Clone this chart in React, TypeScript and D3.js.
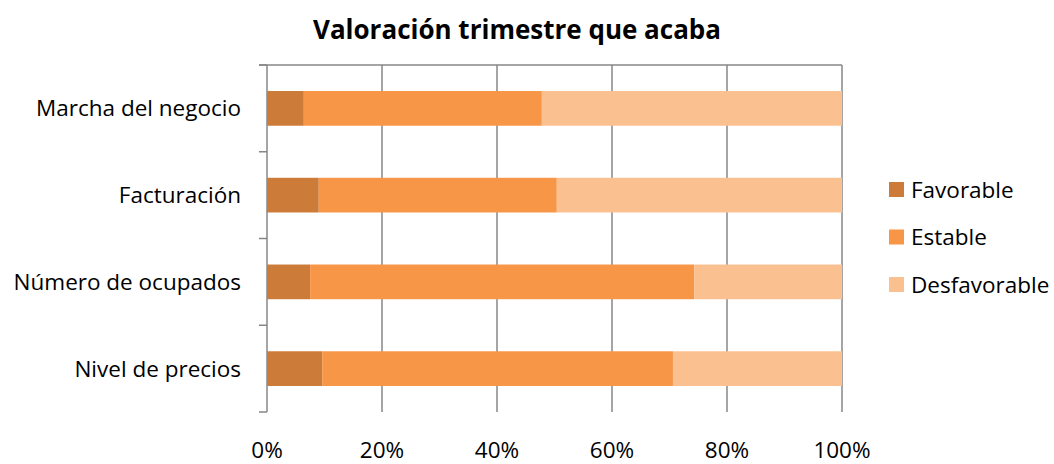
import * as d3 from "d3";

const categories = ["Marcha del negocio", "Facturación", "Número de ocupados", "Nivel de precios"];
const favorable = [6.4, 9.0, 7.5, 9.6];
const estable = [41.4, 41.4, 66.8, 61.0];
const desfavorable = [52.2, 49.6, 25.7, 29.4];
const seriesNames = ["Favorable", "Estable", "Desfavorable"];
const seriesColors = ["#CC7B38", "#F79646", "#FAC090"];
const xTicks = [0, 20, 40, 60, 80, 100];

const W = 1054;
const H = 464;
const font = "'Open Sans', sans-serif";
const fs = 22.5;

export default function App() {
  const x = d3.scaleLinear().domain([0, 100]).range([267, 842]);
  const y = d3.scaleBand().domain(categories).range([65, 412]).paddingInner(0.6).paddingOuter(0.3);
  const yEdge = d3.scaleLinear().domain([0, categories.length]).range([65, 412]);

  const rows = categories.map((c, i) => ({ c, vals: [favorable[i], estable[i], desfavorable[i]] }));
  const stack = d3.stack<any, string>().keys(seriesNames).value((d, k) => d.vals[seriesNames.indexOf(k)]);
  const stacked = stack(rows as any);

  return (
    <svg width={W} height={H} style={{ position: "absolute", left: 0, top: 0 }} fontFamily={font}>
      <text x={517} y={39} textAnchor="middle" fontSize={26} fontWeight="bold" fill="#000">
        Valoración trimestre que acaba
      </text>
      {xTicks.map((t) => (
        <line key={t} x1={x(t)} x2={x(t)} y1={65} y2={412} stroke="#878787" strokeWidth={1.5} />
      ))}
      <line x1={259} x2={842} y1={65} y2={65} stroke="#878787" strokeWidth={1.5} />
      {d3.range(categories.length + 1).map((i) => (
        <line key={i} x1={259} x2={267} y1={yEdge(i)} y2={yEdge(i)} stroke="#878787" strokeWidth={1.5} />
      ))}
      {stacked.map((s, si) =>
        s.map((d, i) => (
          <rect
            key={si + "-" + i}
            x={x(d[0])}
            y={y(categories[i])}
            width={x(d[1]) - x(d[0])}
            height={y.bandwidth()}
            fill={seriesColors[si]}
          />
        ))
      )}
      {categories.map((c) => (
        <text key={c} x={241} y={(y(c) as number) + y.bandwidth() / 2} dy="0.36em" textAnchor="end" fontSize={fs} fill="#000">
          {c}
        </text>
      ))}
      {xTicks.map((t) => (
        <text key={t} x={x(t)} y={458} textAnchor="middle" fontSize={fs} fill="#000">
          {t}%
        </text>
      ))}
      {seriesNames.map((n, i) => (
        <g key={n}>
          <rect x={889} y={182 + i * 47.5} width={15} height={15} fill={seriesColors[i]} />
          <text x={911} y={189.5 + i * 47.5} dy="0.36em" fontSize={fs} fill="#000">
            {n}
          </text>
        </g>
      ))}
    </svg>
  );
}
